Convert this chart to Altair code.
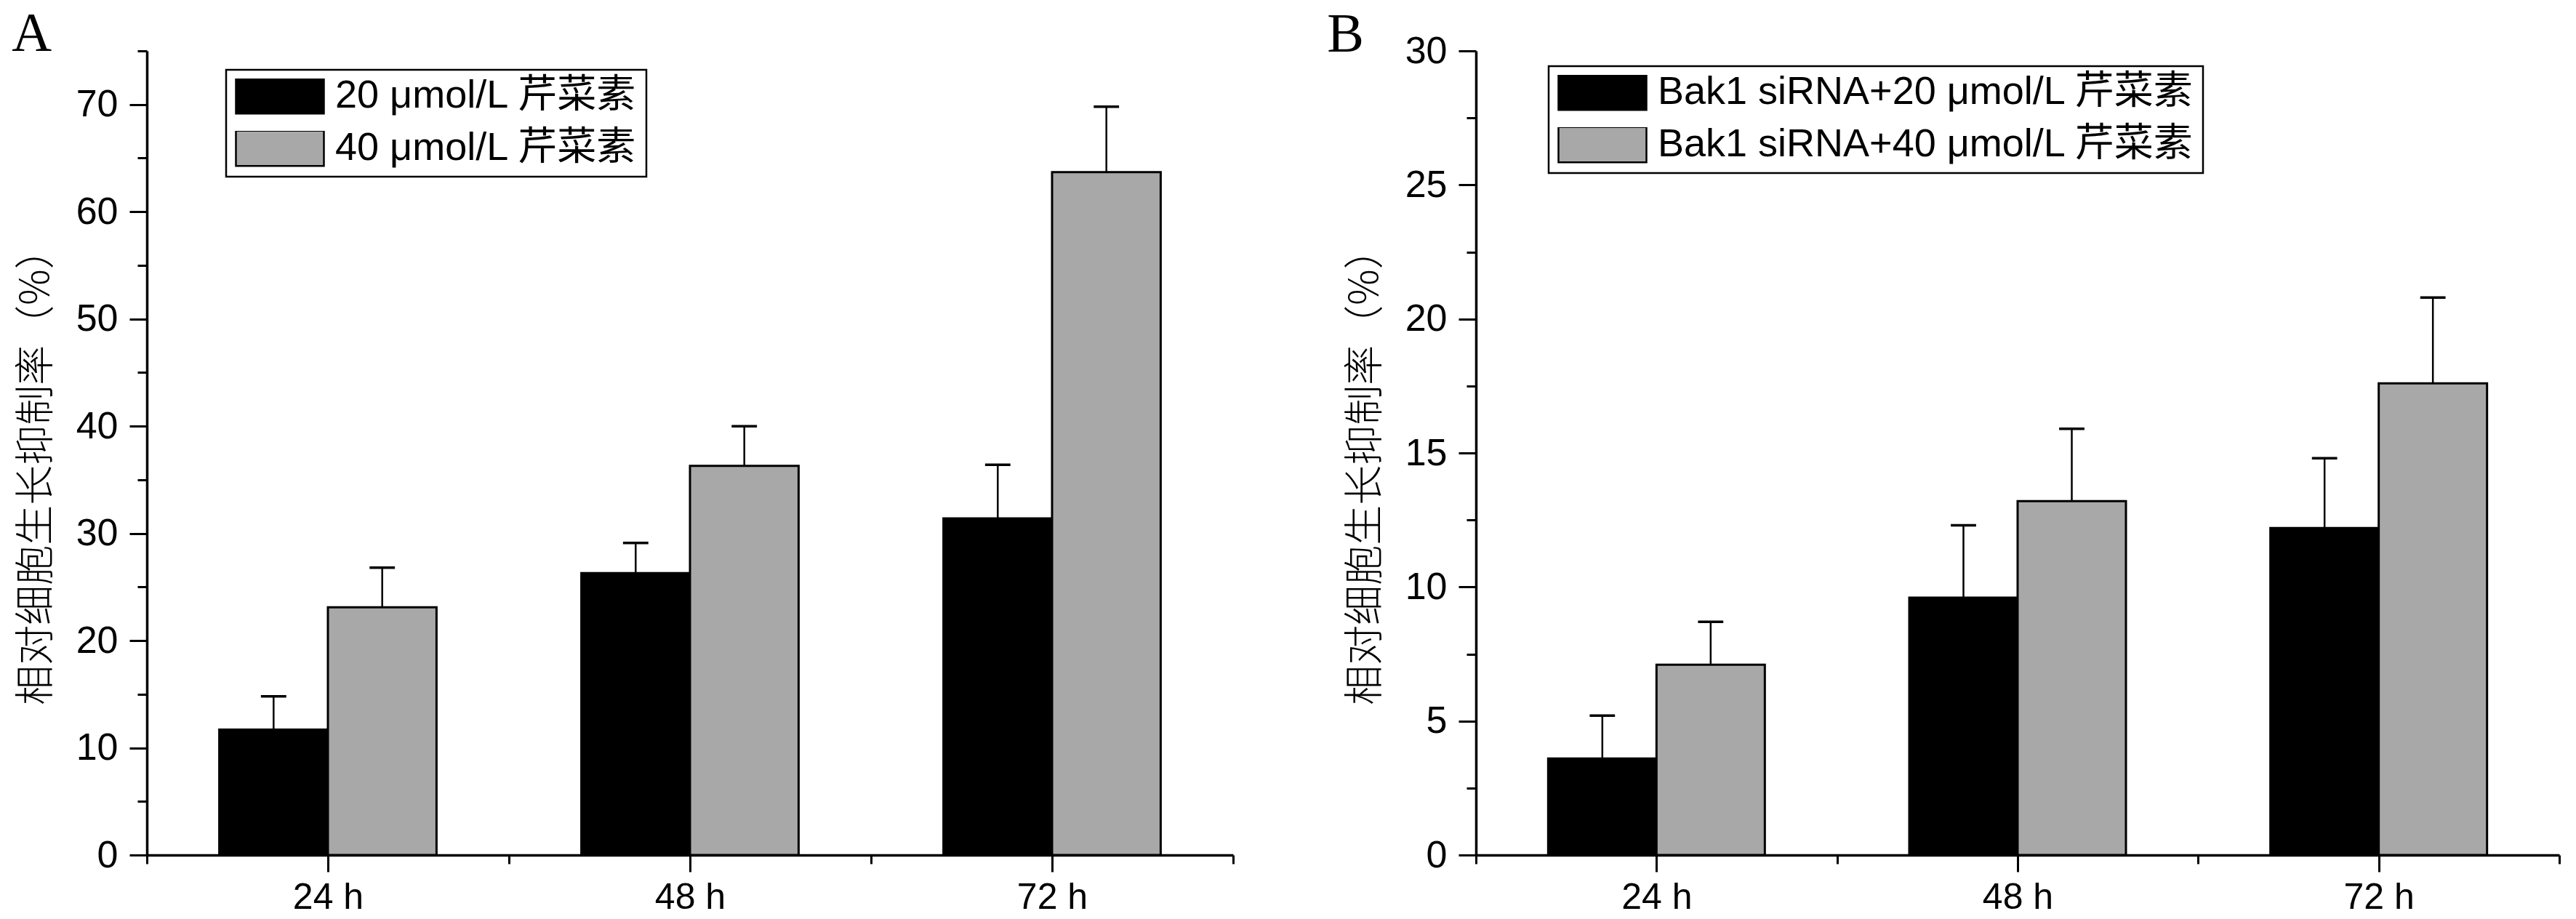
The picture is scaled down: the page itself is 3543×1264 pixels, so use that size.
import altair as alt
import pandas as pd

# ---------------- data ----------------
categories = ["24 h", "48 h", "72 h"]

a_series = ["20 μmol/L 芹菜素", "40 μmol/L 芹菜素"]
a_low_mean = [11.7, 26.3, 31.4]
a_low_sd = [3.1, 2.8, 5.0]
a_high_mean = [23.1, 36.3, 63.7]
a_high_sd = [3.7, 3.7, 6.1]

b_series = ["Bak1 siRNA+20 μmol/L 芹菜素", "Bak1 siRNA+40 μmol/L 芹菜素"]
b_low_mean = [3.6, 9.6, 12.2]
b_low_sd = [1.6, 2.7, 2.6]
b_high_mean = [7.1, 13.2, 17.6]
b_high_sd = [1.6, 2.7, 3.2]

a_ticks = [0, 5, 10, 15, 20, 25, 30, 35, 40, 45, 50, 55, 60, 65, 70, 75]
b_ticks = [0, 2.5, 5, 7.5, 10, 12.5, 15, 17.5, 20, 22.5, 25, 27.5, 30]
x_ticks = [0, 0.5, 1, 1.5, 2, 2.5, 3]

y_title = "相对细胞生长抑制率（%）"
bar_colors = ["#000000", "#a8a8a8"]

SANS = "Liberation Sans, Noto Sans CJK SC"
CJK = "Noto Sans CJK SC"
SERIF = "Liberation Serif"

# layout fractions of one category slot
BAR_W = 0.3          # width of a bar
GROUP_PAD = 0.2      # space before the first bar of a group
CAP_W = 0.07         # error-bar cap width


def panel(letter, series, lo, lo_sd, hi, hi_sd, ymax, ticks, major,
          width, height, lx, ly, title_dx, title_offset):
    rows = []
    for ti, c in enumerate(categories):
        rows.append({"time": c, "ti": ti, "series": series[0], "si": 0,
                     "mean": lo[ti], "sd": lo_sd[ti]})
        rows.append({"time": c, "ti": ti, "series": series[1], "si": 1,
                     "mean": hi[ti], "sd": hi_sd[ti]})
    df = pd.DataFrame(rows)
    base = alt.Chart(df).transform_calculate(
        top="datum.mean + datum.sd",
        zero="0",
        x0=f"datum.ti + {GROUP_PAD} + datum.si * {BAR_W}",
    ).transform_calculate(
        x1=f"datum.x0 + {BAR_W}",
        xc=f"datum.x0 + {BAR_W / 2}",
    ).transform_calculate(
        cl=f"datum.xc - {CAP_W / 2}",
        cr=f"datum.xc + {CAP_W / 2}",
    )

    cat_js = "[" + ",".join(f"'{c}'" for c in categories) + "]"
    xscale = alt.Scale(domain=[0, len(categories)], nice=False, zero=False)
    xaxis = alt.Axis(
        values=x_ticks,
        labelExpr=f"datum.value % 1 === 0.5 ? {cat_js}[floor(datum.value)] : ''",
        tickSize={"condition": {"test": "datum.value % 1 === 0.5", "value": 23},
                  "value": 12},
        labelAngle=0, labelPadding=10, labelFontSize=50,
        domainWidth=3.5, tickWidth=3, grid=False, labelFlush=False,
        labelOverlap=False)

    def xdef(field):
        return alt.X(field, scale=xscale, title=None, axis=xaxis)

    yscale = alt.Scale(domain=[0, ymax], nice=False, zero=True)
    yaxis = alt.Axis(
        values=ticks,
        labelExpr=f"datum.value % {major} === 0 ? datum.label : ''",
        tickSize={"condition": {"test": f"datum.value % {major} === 0", "value": 24},
                  "value": 13},
        labelFontSize=52, labelPadding=16, titlePadding=26, titleY=572,
        grid=False)

    def ydef(field):
        return alt.Y(field, scale=yscale, title=y_title, axis=yaxis)

    bars = base.mark_rect(stroke="black", strokeWidth=3).encode(
        x=xdef("x0:Q"), x2="x1:Q", y=ydef("mean:Q"), y2="zero:Q",
        color=alt.Color(
            "series:N", sort=series,
            scale=alt.Scale(domain=series, range=bar_colors),
            legend=alt.Legend(
                title=None, orient="none", legendX=lx, legendY=ly,
                symbolType="M-1,-0.4H1V0.4H-1Z", symbolSize=14641,
                symbolStrokeColor="black", symbolStrokeWidth=2.5,
                symbolOpacity=1,
                labelFont=SANS, labelFontSize=54, labelColor="black",
                labelLimit=3000, labelOffset=14,
                strokeColor="black", fillColor="white",
                padding=12, rowPadding=18, clipHeight=48)))

    err = base.mark_rule(color="black", strokeWidth=2.5).encode(
        x=xdef("xc:Q"), y=ydef("mean:Q"), y2="top:Q")
    caps = base.mark_rule(color="black", strokeWidth=3.5).encode(
        x=xdef("cl:Q"), x2="cr:Q", y=ydef("top:Q"))

    return alt.layer(bars, err, caps).properties(
        width=width, height=height,
        title=alt.TitleParams(letter, anchor="start", frame="bounds",
                              font=SERIF, fontSize=76, fontWeight="normal",
                              color="black", offset=title_offset, dx=title_dx))


pa = panel("A", a_series, a_low_mean, a_low_sd, a_high_mean, a_high_sd,
           75, a_ticks, 10, 1494, 1106, 109, 26, -6, -17)
pb = panel("B", b_series, b_low_mean, b_low_sd, b_high_mean, b_high_sd,
           30, b_ticks, 5, 1490, 1106, 100, 21, -25, -43)

chart = alt.hconcat(pa, pb, spacing=334, bounds="flush").resolve_scale(
    color="independent"
).properties(
    padding={"left": 8, "top": 0, "right": 4, "bottom": 0},
    background="white",
).configure_view(stroke=None).configure_axis(
    domainColor="black", domainWidth=3.5, tickColor="black", tickWidth=3,
    labelColor="black", labelFont=SANS, titleFont=CJK, titleFontSize=55,
    titleFontWeight=300, titleColor="black", grid=False,
).configure_legend(strokeWidth=2.5)

chart.save("out.html", embed_options={"renderer": "svg", "actions": False})
